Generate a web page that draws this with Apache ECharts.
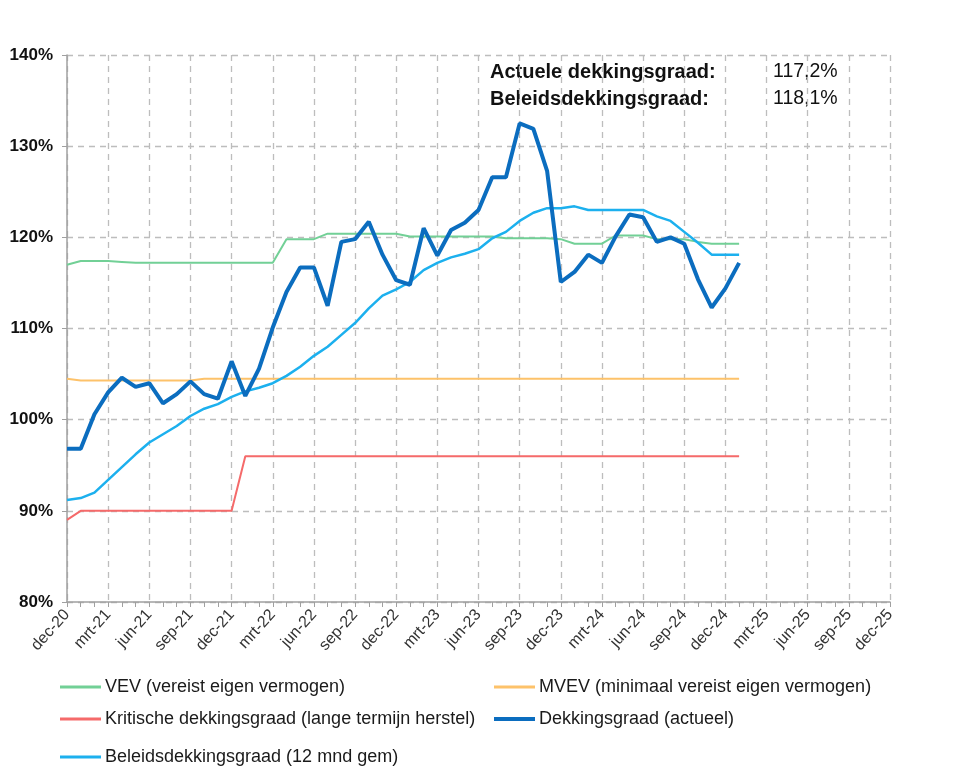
<!DOCTYPE html>
<html><head><meta charset="utf-8">
<script src="https://cdn.jsdelivr.net/npm/echarts@6/dist/echarts.min.js"></script>
<style>html,body{margin:0;padding:0;background:#fff}#c{width:957px;height:782px}</style>
</head><body><div id="c"></div>
<script>
const months = ['jan','feb','mrt','apr','mei','jun','jul','aug','sep','okt','nov','dec'];
const categories = ['dec-20'];
for (let y = 21; y <= 25; y++) for (const m of months) categories.push(m + '-' + y);

const vev = [117.0,117.4,117.4,117.4,117.3,117.2,117.2,117.2,117.2,117.2,117.2,117.2,117.2,117.2,117.2,117.2,
  119.8,119.8,119.8,120.4,120.4,120.4,120.4,120.4,120.4,120.1,120.1,120.1,120.1,120.1,120.1,120.1,
  119.9,119.9,119.9,119.9,119.8,119.3,119.3,119.3,120.2,120.2,120.2,119.8,119.8,119.8,119.5,119.3,119.3,119.3];
const mvev = [104.5,104.3,104.3,104.3,104.3,104.3,104.3,104.3,104.3,104.3,104.5,104.5,104.5,104.5,104.5,104.5,
  104.5,104.5,104.5,104.5,104.5,104.5,104.5,104.5,104.5,104.5,104.5,104.5,104.5,104.5,104.5,104.5,104.5,104.5,
  104.5,104.5,104.5,104.5,104.5,104.5,104.5,104.5,104.5,104.5,104.5,104.5,104.5,104.5,104.5,104.5];
const kritisch = [89.0,90,90,90,90,90,90,90,90,90,90,90,90,96,96,96,96,96,96,96,96,96,96,96,96,96,96,96,96,96,
  96,96,96,96,96,96,96,96,96,96,96,96,96,96,96,96,96,96,96,96];
const actueel = [96.8,96.8,100.6,103.0,104.6,103.6,104.0,101.8,102.8,104.2,102.8,102.3,106.4,102.6,105.6,110.1,
  114.0,116.7,116.7,112.5,119.5,119.8,121.7,118.1,115.3,114.8,121.0,118.0,120.8,121.6,123.0,126.6,126.6,132.5,
  131.9,127.3,115.1,116.2,118.1,117.2,120.1,122.5,122.2,119.5,120.0,119.3,115.4,112.3,114.4,117.2];
const beleid = [91.2,91.4,92.0,93.4,94.8,96.2,97.5,98.4,99.3,100.4,101.2,101.7,102.5,103.1,103.5,104.0,104.8,
  105.8,107.0,108.0,109.3,110.6,112.2,113.6,114.3,115.1,116.4,117.2,117.8,118.2,118.7,119.9,120.6,121.8,122.7,
  123.2,123.2,123.4,123.0,123.0,123.0,123.0,123.0,122.3,121.8,120.6,119.4,118.1,118.1,118.1];
const seriesNames = ['VEV (vereist eigen vermogen)','MVEV (minimaal vereist eigen vermogen)',
  'Kritische dekkingsgraad (lange termijn herstel)','Dekkingsgraad (actueel)','Beleidsdekkingsgraad (12 mnd gem)'];
const annotLabels = ['Actuele dekkingsgraad:','Beleidsdekkingsgraad:'];
const annotValues = ['117,2%','118,1%'];

const colors = ['#72d096','#fdc26a','#f56a6a','#0b6dbf','#1cb0ee'];
const widths = [2,2,2,4,2.5];
const datas = [vev,mvev,kritisch,actueel,beleid];
const font = 'Arial, "Liberation Sans", sans-serif';

const legendPos = [[60,677],[494,677],[60,709],[494,709],[60,747]];
const legends = seriesNames.map((n,i)=>({
  data:[n], left:legendPos[i][0], top:legendPos[i][1], icon:'rect', itemWidth:41,
  itemHeight: i===3?4:3, itemGap:0, padding:0,
  textStyle:{fontFamily:font,fontSize:18,lineHeight:20,color:'#1a1a1a',padding:[0,0,0,-1]}
}));

const chart = echarts.init(document.getElementById('c'), null, {renderer:'canvas'});
chart.setOption({
  animation:false,
  backgroundColor:'#fff',
  grid:{left:67,right:67,top:55,bottom:180},
  legend:legends,
  xAxis:{type:'category',data:categories,boundaryGap:false,
    axisLine:{lineStyle:{color:'#a0a0a0',width:1.5}},
    axisTick:{interval:0,length:5,lineStyle:{color:'#a0a0a0'}},
    axisLabel:{interval:2,rotate:48,fontFamily:font,fontSize:16,color:'#333',margin:10},
    splitLine:{show:true,interval:2,lineStyle:{color:'#bdbdbd',type:[6,5],width:1.3}}
  },
  yAxis:{type:'value',min:80,max:140,interval:10,
    axisLine:{show:true,lineStyle:{color:'#a0a0a0',width:1.5}},
    axisTick:{show:true,length:5,lineStyle:{color:'#a0a0a0'}},
    axisLabel:{formatter:'{value}%',fontFamily:font,fontSize:17,fontWeight:'bold',color:'#111',margin:14},
    splitLine:{show:true,lineStyle:{color:'#bdbdbd',type:[6,5],width:1.3}}
  },
  series:datas.map((d,i)=>({
    name:seriesNames[i],type:'line',data:d,symbol:'none',z:[2,2,2,4,3][i],
    lineStyle:{color:colors[i],width:widths[i]},itemStyle:{color:colors[i]}
  })),
  graphic:[
    {type:'text',left:490,top:62,style:{text:annotLabels[0],font:'bold 20px '+font,fill:'#111'}},
    {type:'text',left:490,top:89,style:{text:annotLabels[1],font:'bold 20px '+font,fill:'#111'}},
    {type:'text',left:773,top:62,style:{text:annotValues[0],font:'19.5px '+font,fill:'#111'}},
    {type:'text',left:773,top:89,style:{text:annotValues[1],font:'19.5px '+font,fill:'#111'}}
  ]
});
</script></body></html>
